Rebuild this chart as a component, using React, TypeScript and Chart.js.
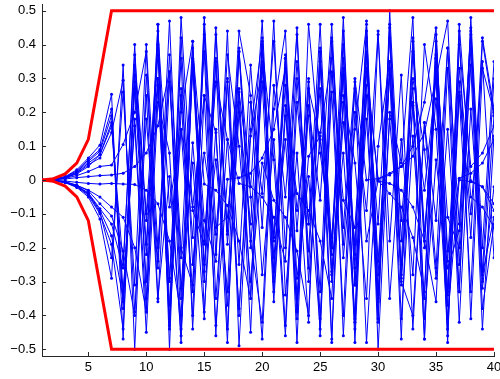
import { useEffect, useRef } from "react";
import { Chart, registerables } from "chart.js";

Chart.register(...registerables);

const xValues = [1, 2, 3, 4, 5, 6, 7, 8, 9, 10, 11, 12, 13, 14, 15, 16, 17, 18, 19, 20, 21, 22, 23, 24, 25, 26, 27, 28, 29, 30, 31, 32, 33, 34, 35, 36, 37, 38, 39, 40];
const xTickValues = [5, 10, 15, 20, 25, 30, 35, 40];
const yTickValues = [-0.5, -0.4, -0.3, -0.2, -0.1, 0, 0.1, 0.2, 0.3, 0.4, 0.5];

const upperBound = [0, 0.004, 0.018, 0.05, 0.12, 0.31, 0.5, 0.5, 0.5, 0.5, 0.5, 0.5, 0.5, 0.5, 0.5, 0.5, 0.5, 0.5, 0.5, 0.5, 0.5, 0.5, 0.5, 0.5, 0.5, 0.5, 0.5, 0.5, 0.5, 0.5, 0.5, 0.5, 0.5, 0.5, 0.5, 0.5, 0.5, 0.5, 0.5, 0.5];
const lowerBound = [0, -0.004, -0.018, -0.05, -0.12, -0.31, -0.5, -0.5, -0.5, -0.5, -0.5, -0.5, -0.5, -0.5, -0.5, -0.5, -0.5, -0.5, -0.5, -0.5, -0.5, -0.5, -0.5, -0.5, -0.5, -0.5, -0.5, -0.5, -0.5, -0.5, -0.5, -0.5, -0.5, -0.5, -0.5, -0.5, -0.5, -0.5, -0.5, -0.5];

const s1 = [0, .003, .010, .030, .065, .103, .253, -.470, .340, -.120, .300, -.440, .200, .410, -.250, .060, -.330, .390, -.180, -.420, .280, -.050, .430, -.300, .140, .360, -.460, .200, -.090, .440, -.350, .120, -.280, .400, .150, -.440, .290, -.170, .420, .210];
const s2 = [0, .003, .009, .027, .060, .090, .210, -.380, .290, -.220, .460, -.370, .150, -.080, .250, -.430, .002, .007, .020, .065, .150, .330, -.410, .220, -.060, .460, -.190, .270, -.480, .100, .350, -.300, -.400, .170, -.120, .390, -.130, .440, -.270, .300];
const s3 = [0, .002, .008, .024, .055, .085, .190, -.330, .160, -.450, .230, .080, -.480, .360, -.120, -.240, .440, -.490, .130, .330, -.180, .370, -.290, .010, -.440, .410, -.230, .150, .460, -.500, .200, .050, .480, -.410, .060, -.260, -.150, .450, -.300, .190];
const s4 = [0, .002, .007, .020, .045, .065, .140, .295, -.390, .180, -.260, .370, -.200, -.310, .480, -.140, -.110, .270, -.350, .390, .060, -.460, .230, -.130, .460, -.270, .080, -.420, .330, .003, .015, .040, .100, .230, .450, -.330, .260, -.100, .350, -.230];
const s5 = [0, .001, .005, .013, .025, .040, .044, .105, .200, .380, -.350, .010, -.460, .340, -.180, .290, .120, -.380, .150, .410, -.270, .360, -.090, .190, -.330, .420, -.140, .300, .000, .004, .020, .040, .070, .140, .300, .470, -.250, .340, -.440, .130];
const s6 = [0, .001, .003, .007, .010, .013, .015, .020, .040, .080, .160, .320, -.440, .110, -.300, .430, -.160, .380, -.050, -.470, .210, .440, -.350, .070, .130, -.200, .480, -.310, .250, -.410, .330, -.120, .270, -.470, .410, -.210, .005, .020, .050, .120];
const s7 = [0, .002, .006, .018, .040, .075, .160, -.250, .370, -.100, .400, -.410, .480, -.090, -.190, .350, -.440, .260, -.020, .470, -.230, .120, -.370, .290, -.460, .320, -.060, -.140, .380, -.350, .460, -.290, .220, -.030, .300, -.480, .400, .040, .080, .160];
const s8 = [0, -.002, -.008, -.022, -.050, -.115, -.290, .340, -.500, .310, -.240, .470, -.320, .050, -.410, .360, -.150, .440, .250, -.280, .120, -.430, .300, -.210, .380, -.470, .250, .050, -.350, .430, -.180, .310, -.440, .170, -.260, .390, -.330, .480, -.200, .350];
const s9 = [0, -.002, -.007, -.020, -.045, -.100, -.190, -.440, .270, -.300, .460, -.500, .420, -.250, .080, -.160, .290, -.400, .230, -.040, .410, -.200, .350, -.130, .270, -.480, .440, -.260, .320, -.003, -.010, -.030, -.080, -.180, -.360, .330, -.420, .210, -.280, -.110];
const s10 = [0, -.002, -.006, -.018, -.040, -.090, -.165, -.350, .180, -.390, .440, -.080, .150, -.330, .460, -.220, .370, .100, -.300, .050, -.060, -.110, -.210, -.400, .350, -.280, .230, -.410, .470, -.340, .180, -.250, .420, -.180, .330, -.410, .000, -.005, -.020, -.070];
const s11 = [0, -.002, -.006, -.017, -.038, -.085, -.130, -.260, .400, -.350, .280, -.290, .360, -.440, .250, .140, -.370, .200, -.130, .400, -.330, .220, -.390, .460, .080, -.170, .330, -.440, .370, -.240, .310, -.470, .410, -.150, .240, -.370, .460, -.002, -.020, -.090];
const s12 = [0, -.001, -.005, -.015, -.032, -.070, -.106, -.210, -.400, .250, -.360, .290, -.230, .410, -.390, .150, -.480, .380, -.200, .290, -.360, .190, -.040, -.090, -.180, -.350, .360, -.220, .420, -.420, .500, -.180, .300, .090, -.290, .150, -.330, .390, -.380, -.130];
const s13 = [0, -.001, -.003, -.007, -.010, -.012, -.010, -.012, -.013, -.030, -.070, -.180, -.400, .330, -.270, .450, -.190, .230, -.450, .350, -.170, .280, -.480, .270, .120, -.220, .400, -.310, .180, -.360, .450, -.280, .230, -.470, .360, -.110, -.200, .430, -.320, -.020];
const s14 = [0, -.002, -.006, -.016, -.030, -.050, -.080, -.110, -.200, -.390, .300, -.430, .270, -.170, .380, -.460, .300, -.250, .340, -.140, .470, -.340, .080, -.420, .350, -.300, .170, -.190, .440, -.280, .350, -.410, .130, -.350, .430, -.240, .330, -.050, -.080, -.140];
const s15 = [0, -.002, -.007, -.019, -.042, -.095, -.230, .260, -.310, .400, -.200, .320, -.350, .390, -.012, -.030, -.075, -.180, -.350, .420, -.300, .360, -.150, .300, -.410, .260, -.400, .290, -.180, -.002, -.040, -.080, -.170, -.330, .370, -.460, .250, -.330, .410, .190];
const s16 = [0, .002, .007, .021, .050, .075, .170, -.360, .310, -.190, .370, -.300, .250, -.400, .430, -.350, .120, -.010, -.020, -.050, -.110, -.240, .450, -.260, .390, -.200, .310, -.480, .280, -.130, .420, -.310, .380, -.200, .360, -.340, .440, -.410, .330, .200];

const blueSeries = [s1, s2, s3, s4, s5, s6, s7, s8, s9, s10, s11, s12, s13, s14, s15, s16];

const FONT = { family: "'Liberation Sans', Arial, Helvetica, sans-serif", size: 13 };
const AXIS_COLOR = "#262626";

const toPoints = (arr: number[]) => arr.map((y, i) => ({ x: xValues[i], y }));

const fmtY = (v: number) => {
  if (Math.abs(v) < 1e-9) return "0";
  return (v < 0 ? "\u2212" : "") + Math.abs(v).toFixed(1);
};

const inwardTicks = {
  id: "inwardTicks",
  afterDraw(chart: any) {
    const { ctx, chartArea, scales } = chart;
    ctx.save();
    ctx.strokeStyle = AXIS_COLOR;
    ctx.lineWidth = 1;
    ctx.beginPath();
    xTickValues.forEach((v) => {
      const px = Math.round(scales.x.getPixelForValue(v)) + 0.5;
      ctx.moveTo(px, chartArea.bottom);
      ctx.lineTo(px, chartArea.bottom - 4);
    });
    yTickValues.forEach((v) => {
      const py = Math.round(scales.y.getPixelForValue(v)) + 0.5;
      ctx.moveTo(chartArea.left, py);
      ctx.lineTo(chartArea.left + 4, py);
    });
    ctx.stroke();
    ctx.restore();
  },
};

export default function App() {
  const canvasRef = useRef<HTMLCanvasElement | null>(null);

  useEffect(() => {
    document.body.style.margin = "0";
    const canvas = canvasRef.current;
    if (!canvas) return;

    const datasets: any[] = [
      {
        data: toPoints(upperBound),
        borderColor: "#ff0000",
        borderWidth: 3,
        pointRadius: 0,
        tension: 0,
      },
      {
        data: toPoints(lowerBound),
        borderColor: "#ff0000",
        borderWidth: 3,
        pointRadius: 0,
        tension: 0,
      },
      ...blueSeries.map((s) => ({
        data: toPoints(s),
        borderColor: "#0000ff",
        borderWidth: 1,
        pointRadius: 1.5,
        pointBorderWidth: 0,
        pointBackgroundColor: "#0000ff",
        tension: 0,
      })),
    ];

    const chart = new Chart(canvas, {
      type: "line",
      data: { datasets },
      options: {
        responsive: false,
        animation: false,
        devicePixelRatio: 1,
        layout: { padding: { top: 3, right: 6, left: 0, bottom: 0 } },
        plugins: {
          legend: { display: false },
          tooltip: { enabled: false },
        },
        scales: {
          x: {
            type: "linear",
            min: 1,
            max: 40,
            afterBuildTicks: (s: any) => {
              s.ticks = xTickValues.map((v) => ({ value: v }));
            },
            afterFit: (s: any) => {
              s.height = 23;
              s.paddingLeft = 0;
              s.paddingRight = 0;
            },
            ticks: {
              font: FONT,
              color: "#000",
              padding: 4,
              maxRotation: 0,
              autoSkip: false,
              callback: (v: any) => String(v),
            },
            grid: { display: false, drawTicks: false },
            border: { display: true, color: AXIS_COLOR, width: 1 },
          },
          y: {
            type: "linear",
            min: -0.52,
            max: 0.52,
            afterBuildTicks: (s: any) => {
              s.ticks = yTickValues.map((v) => ({ value: v }));
            },
            afterFit: (s: any) => {
              s.width = 42;
              s.paddingTop = 0;
              s.paddingBottom = 0;
            },
            ticks: {
              font: FONT,
              color: "#000",
              padding: 6,
              autoSkip: false,
              callback: (v: any) => fmtY(Number(v)),
            },
            grid: { display: false, drawTicks: false },
            border: { display: true, color: AXIS_COLOR, width: 1 },
          },
        },
      },
      plugins: [inwardTicks],
    });

    return () => chart.destroy();
  }, []);

  return (
    <div style={{ width: 500, height: 379 }}>
      <canvas ref={canvasRef} width={500} height={379} style={{ display: "block" }} />
    </div>
  );
}
